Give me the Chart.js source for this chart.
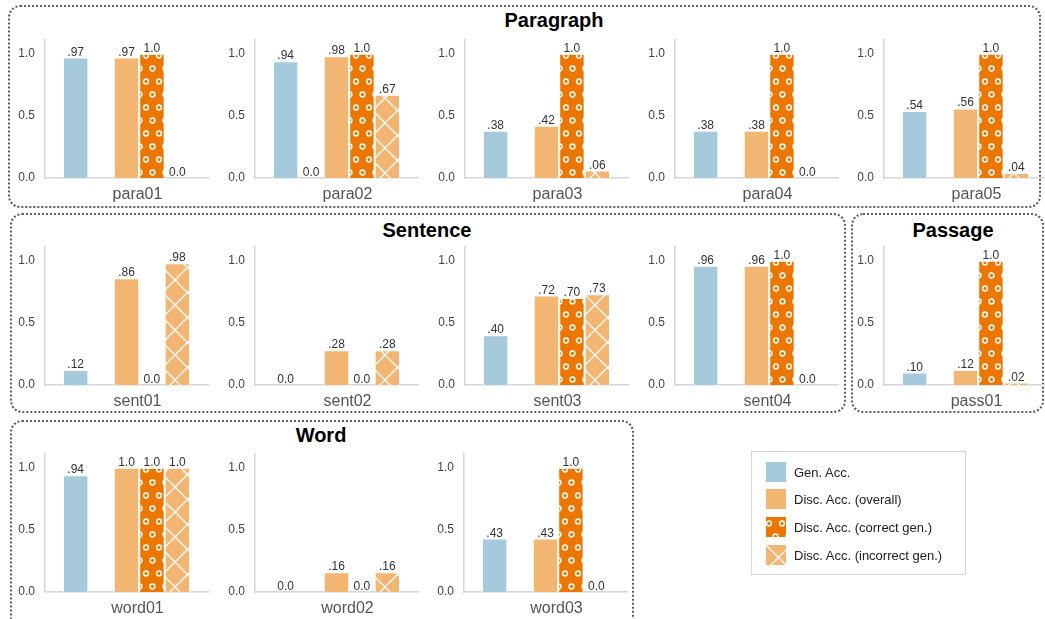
<!DOCTYPE html>
<html>
<head>
<meta charset="utf-8">
<script src="https://cdn.jsdelivr.net/npm/chart.js@4.4.0/dist/chart.umd.min.js"></script>
<style>
    body { margin: 0; width: 1045px; height: 619px; background: #fff; position: relative; overflow: hidden;
           font-family: "Liberation Sans", Arial, Helvetica, sans-serif; }
    .box { position: absolute; border: 2px dotted #5e5e5e; border-radius: 12px; box-sizing: border-box; }
    .title { position: absolute; font-weight: bold; font-size: 20px; line-height: 20px; color: #000;
             transform: translateX(-50%); white-space: nowrap; }
    .panel { position: absolute; }
    #legend { position: absolute; left: 751px; top: 451px; width: 215px; height: 124px; box-sizing: border-box;
              border: 1px solid #d4d4d4; background: #fff; }
    .item { position: absolute; left: 14px; height: 20px; display: flex; align-items: center; font-size: 13px; color: #222; }
    .item canvas { width: 20px; height: 20px; margin-right: 8px; }
</style>
</head>
<body>
<div class="box" style="left:8px;top:5px;width:1033px;height:203px;"></div>
<div class="box" style="left:10px;top:213px;width:836px;height:200px;"></div>
<div class="box" style="left:851px;top:213px;width:193px;height:200px;"></div>
<div class="box" style="left:10px;top:420px;width:624px;height:210px;"></div>

<div class="title" style="left:554px;top:10px;">Paragraph</div>
<div class="title" style="left:427px;top:220px;">Sentence</div>
<div class="title" style="left:953px;top:220px;">Passage</div>
<div class="title" style="left:321px;top:425px;">Word</div>

<div id="legend"></div>

<script>
// ---- datos ----
const seriesNames = ['Gen. Acc.', 'Disc. Acc. (overall)', 'Disc. Acc. (correct gen.)', 'Disc. Acc. (incorrect gen.)'];
const yTicks = [0, 0.5, 1.0];

const paraLabels = ['para01', 'para02', 'para03', 'para04', 'para05'];
const paraGen = [0.97, 0.94, 0.38, 0.38, 0.54];
const paraOverall = [0.97, 0.98, 0.42, 0.38, 0.56];
const paraCorrect = [1.0, 1.0, 1.0, 1.0, 1.0];
const paraIncorrect = [0.0, 0.67, 0.06, 0.0, 0.04];
const paraExtra = [null, 0.0, null, null, null];

const sentLabels = ['sent01', 'sent02', 'sent03', 'sent04'];
const sentGen = [0.12, 0.0, 0.40, 0.96];
const sentOverall = [0.86, 0.28, 0.72, 0.96];
const sentCorrect = [0.0, 0.0, 0.70, 1.0];
const sentIncorrect = [0.98, 0.28, 0.73, 0.0];

const passLabels = ['pass01'];
const passGen = [0.10];
const passOverall = [0.12];
const passCorrect = [1.0];
const passIncorrect = [0.02];

const wordLabels = ['word01', 'word02', 'word03'];
const wordGen = [0.94, 0.0, 0.43];
const wordOverall = [1.0, 0.16, 0.43];
const wordCorrect = [1.0, 0.0, 1.0];
const wordIncorrect = [1.0, 0.16, 0.0];

// ---- estilos ----
const FONT = '"Liberation Sans", Arial, Helvetica, sans-serif';
const C_BLUE = '#a4cadb';
const C_LIGHT = '#f2b672';
const C_DARK = '#ec7700';
Chart.defaults.font.family = FONT;

// círculos blancos escalonados sobre naranja oscuro
function dotPattern() {
    const w = 13, h = 26;
    const c = document.createElement('canvas');
    c.width = w; c.height = h;
    const g = c.getContext('2d');
    g.fillStyle = C_DARK;
    g.fillRect(0, 0, w, h);
    g.strokeStyle = '#fff';
    g.lineWidth = 1.5;
    [[3, 6.5], [9.5, 19.5], [-3.5, 19.5], [16, 6.5]].forEach(([x, y]) => {
        g.beginPath(); g.arc(x, y, 2.4, 0, 2 * Math.PI); g.stroke();
    });
    return g.createPattern(c, 'repeat');
}

// rombos (x) blancos sobre naranja claro
function crossPattern() {
    const s = 25;
    const c = document.createElement('canvas');
    c.width = s; c.height = s;
    const g = c.getContext('2d');
    g.fillStyle = C_LIGHT;
    g.fillRect(0, 0, s, s);
    g.strokeStyle = '#fff';
    g.lineWidth = 1.3;
    g.beginPath();
    g.moveTo(-2, -2); g.lineTo(s + 2, s + 2);
    g.moveTo(s + 2, -2); g.lineTo(-2, s + 2);
    g.stroke();
    return g.createPattern(c, 'repeat');
}

const DOTS = dotPattern();
const CROSS = crossPattern();

function fmt(v) {
    if (v >= 1) return '1.0';
    if (v === 0) return '0.0';
    return v.toFixed(2).replace(/^0/, '');
}

// Etiquetas de valor encima de las barras
const valueLabels = {
    id: 'valueLabels',
    afterDatasetsDraw(chart) {
        const ctx = chart.ctx;
        ctx.save();
        ctx.font = '12px ' + FONT;
        ctx.fillStyle = '#333';
        ctx.textAlign = 'center';
        ctx.textBaseline = 'alphabetic';
        chart.data.datasets.forEach((ds, i) => {
            chart.getDatasetMeta(i).data.forEach((bar, j) => {
                const v = ds.data[j];
                if (v == null) return;
                ctx.fillText(fmt(v), bar.x, bar.y - 2);
            });
        });
        ctx.restore();
    }
};

function makePanel(label, gen, extra, overall, correct, incorrect, axisX, zeroY) {
    const canvas = document.createElement('canvas');
    canvas.className = 'panel';
    canvas.width = 214; canvas.height = 185;
    canvas.style.left = (axisX - 45) + 'px';
    canvas.style.top = (zeroY - 155) + 'px';
    canvas.style.width = '214px'; canvas.style.height = '185px';
    document.body.appendChild(canvas);

    const common = { borderColor: '#fff', borderWidth: 1, barPercentage: 1, categoryPercentage: 0.78 };
    new Chart(canvas.getContext('2d'), {
        type: 'bar',
        data: {
            labels: [label],
            datasets: [
                { label: seriesNames[0], data: [gen], backgroundColor: C_BLUE, ...common },
                { label: 'extra', data: [extra], backgroundColor: 'rgba(0,0,0,0)', ...common, borderWidth: 0 },
                { label: seriesNames[1], data: [overall], backgroundColor: C_LIGHT, ...common },
                { label: seriesNames[2], data: [correct], backgroundColor: DOTS, ...common },
                { label: seriesNames[3], data: [incorrect], backgroundColor: CROSS, ...common }
            ]
        },
        options: {
            responsive: false,
            animation: false,
            layout: { padding: { top: 10, right: 6, left: 0, bottom: 0 } },
            plugins: { legend: { display: false }, tooltip: { enabled: false } },
            scales: {
                x: {
                    grid: { display: false, drawTicks: false },
                    border: { color: '#d6d6d6', width: 1.5 },
                    ticks: { color: '#555', font: { size: 16 }, padding: 7, labelOffset: 11 },
                    afterFit(s) { s.height = 30; }
                },
                y: {
                    min: 0, max: 1.11,
                    grid: { display: false, drawTicks: false },
                    border: { color: '#d6d6d6', width: 1.5 },
                    ticks: { color: '#444', font: { size: 12 }, padding: 10, callback: v => Number(v).toFixed(1) },
                    afterBuildTicks(s) { s.ticks = yTicks.map(v => ({ value: v })); },
                    afterFit(s) { s.width = 45; }
                }
            }
        },
        plugins: [valueLabels]
    });
}

// Fila 1: Paragraph
const paraX = [45, 255, 465, 675, 884];
paraLabels.forEach((l, i) => makePanel(l, paraGen[i], paraExtra[i], paraOverall[i], paraCorrect[i], paraIncorrect[i], paraX[i], 178));

// Fila 2: Sentence + Passage
const sentX = [45, 255, 465, 675];
sentLabels.forEach((l, i) => makePanel(l, sentGen[i], null, sentOverall[i], sentCorrect[i], sentIncorrect[i], sentX[i], 385));
passLabels.forEach((l, i) => makePanel(l, passGen[i], null, passOverall[i], passCorrect[i], passIncorrect[i], 884, 385));

// Fila 3: Word
const wordX = [45, 255, 464];
wordLabels.forEach((l, i) => makePanel(l, wordGen[i], null, wordOverall[i], wordCorrect[i], wordIncorrect[i], wordX[i], 592));

// Leyenda
const legend = document.getElementById('legend');
const fills = [C_BLUE, C_LIGHT, DOTS, CROSS];
const tops = [10, 37, 65, 93];
seriesNames.forEach((name, i) => {
    const item = document.createElement('div');
    item.className = 'item';
    item.style.top = tops[i] + 'px';
    const sw = document.createElement('canvas');
    sw.width = 20; sw.height = 20;
    const g = sw.getContext('2d');
    g.fillStyle = fills[i];
    g.fillRect(0, 0, 20, 20);
    item.appendChild(sw);
    const t = document.createElement('span');
    t.textContent = name;
    item.appendChild(t);
    legend.appendChild(item);
});
</script>
</body>
</html>
